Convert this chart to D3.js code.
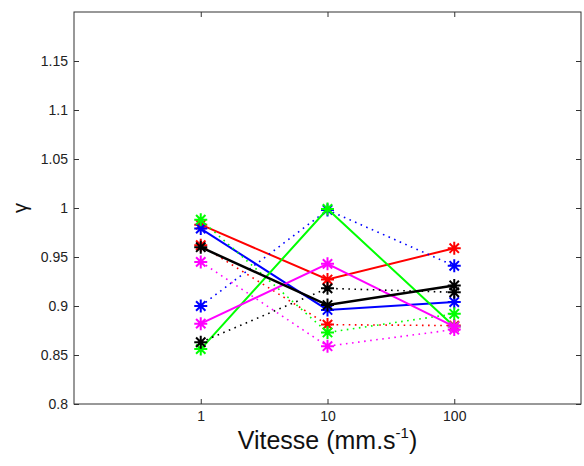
<!DOCTYPE html>
<html><head><meta charset="utf-8">
<script src="https://cdn.jsdelivr.net/npm/d3@7"></script>
<style>body{margin:0;background:#fff}svg{display:block}</style>
</head><body>
<script>
const speeds = [1, 10, 100];
const xTicks = [1, 10, 100];
const yTicks = [0.8, 0.85, 0.9, 0.95, 1, 1.05, 1.1, 1.15];
const seriesColors = ["#ff0000", "#0000ff", "#00ff00", "#ff00ff", "#000000"];
// solid-line series (one per colour)
const solidRed = [0.983, 0.927, 0.959];
const solidBlue = [0.979, 0.896, 0.904];
const solidGreen = [0.856, 0.999, 0.879];
const solidMagenta = [0.882, 0.943, 0.879];
const solidBlack = [0.960, 0.901, 0.921];
// dotted-line series
const dotRed = [0.962, 0.881, 0.880];
const dotBlue = [0.900, 0.998, 0.941];
const dotGreen = [0.988, 0.873, 0.892];
const dotMagenta = [0.945, 0.859, 0.876];
const dotBlack = [0.863, 0.918, 0.914];

const solids = [solidRed, solidBlue, solidGreen, solidMagenta, solidBlack];
const dots = [dotRed, dotBlue, dotGreen, dotMagenta, dotBlack];

const W = 584, H = 466;
const m = {left: 74, top: 12, right: 3, bottom: 62};
const svg = d3.select("body").append("svg").attr("width", W).attr("height", H);
const x = d3.scaleLog().domain([0.1, 1000]).range([m.left, W - m.right]);
const y = d3.scaleLinear().domain([0.8, 1.2]).range([H - m.bottom, m.top]);

const font = "'Liberation Sans', Arial, sans-serif";
const axisColor = "#333";
const tl = 5;
const g = svg.append("g");

// box
g.append("rect").attr("x", x(0.1)).attr("y", y(1.2))
  .attr("width", x(1000) - x(0.1)).attr("height", y(0.8) - y(1.2))
  .attr("fill", "none").attr("stroke", axisColor).attr("stroke-width", 1);

// axes via d3 axis generators (ticks inward)
const xb = svg.append("g").attr("transform", `translate(0,${y(0.8)})`)
  .call(d3.axisBottom(x).tickValues(xTicks).tickFormat(d3.format("d")).tickSize(-tl).tickPadding(7));
const xt = svg.append("g").attr("transform", `translate(0,${y(1.2)})`)
  .call(d3.axisTop(x).tickValues(xTicks).tickFormat("").tickSize(-tl));
const yl = svg.append("g").attr("transform", `translate(${x(0.1)},0)`)
  .call(d3.axisLeft(y).tickValues(yTicks).tickFormat(d => d3.format("")(+d.toFixed(2))).tickSize(-tl).tickPadding(6));
const yr = svg.append("g").attr("transform", `translate(${x(1000)},0)`)
  .call(d3.axisRight(y).tickValues(yTicks).tickFormat("").tickSize(-tl));
[xb, xt, yl, yr].forEach(a => {
  a.select(".domain").remove();
  a.selectAll("line").attr("stroke", axisColor);
  a.selectAll("text").attr("font-family", font).attr("font-size", 14).attr("fill", "#222");
});

// data
const line = d3.line().x((d, i) => x(speeds[i])).y(d => y(d));
const star = (sel, cx, cy, color) => {
  const r = 6.5, r2 = r * 0.72;
  const p = `M${cx - r},${cy}L${cx + r},${cy}M${cx},${cy - r}L${cx},${cy + r}` +
    `M${cx - r2},${cy - r2}L${cx + r2},${cy + r2}M${cx - r2},${cy + r2}L${cx + r2},${cy - r2}`;
  sel.append("path").attr("d", p).attr("stroke", color).attr("stroke-width", 2).attr("fill", "none");
};
seriesColors.forEach((c, k) => {
  const gg = svg.append("g");
  gg.append("path").attr("d", line(solids[k])).attr("fill", "none").attr("stroke", c)
    .attr("stroke-width", k === 4 ? 2.5 : 2);
  gg.append("path").attr("d", line(dots[k])).attr("fill", "none").attr("stroke", c)
    .attr("stroke-width", 1.6).attr("stroke-dasharray", "1.6,4.5");
  solids[k].forEach((v, i) => star(gg, x(speeds[i]), y(v), c));
  dots[k].forEach((v, i) => star(gg, x(speeds[i]), y(v), c));
});

// labels
const xl = svg.append("text").attr("x", (x(0.1) + x(1000)) / 2).attr("y", 449)
  .attr("text-anchor", "middle").attr("font-family", font).attr("font-size", 25).attr("fill", "#111");
xl.append("tspan").text("Vitesse (mm.s");
xl.append("tspan").attr("dy", -11).attr("font-size", 15).text("-1");
xl.append("tspan").attr("dy", 11).text(")");

svg.append("text").attr("transform", `translate(27,${y(1)}) rotate(-90)`)
  .attr("text-anchor", "middle").attr("font-family", font).attr("font-size", 20).attr("fill", "#111").text("γ");
</script>
</body></html>
